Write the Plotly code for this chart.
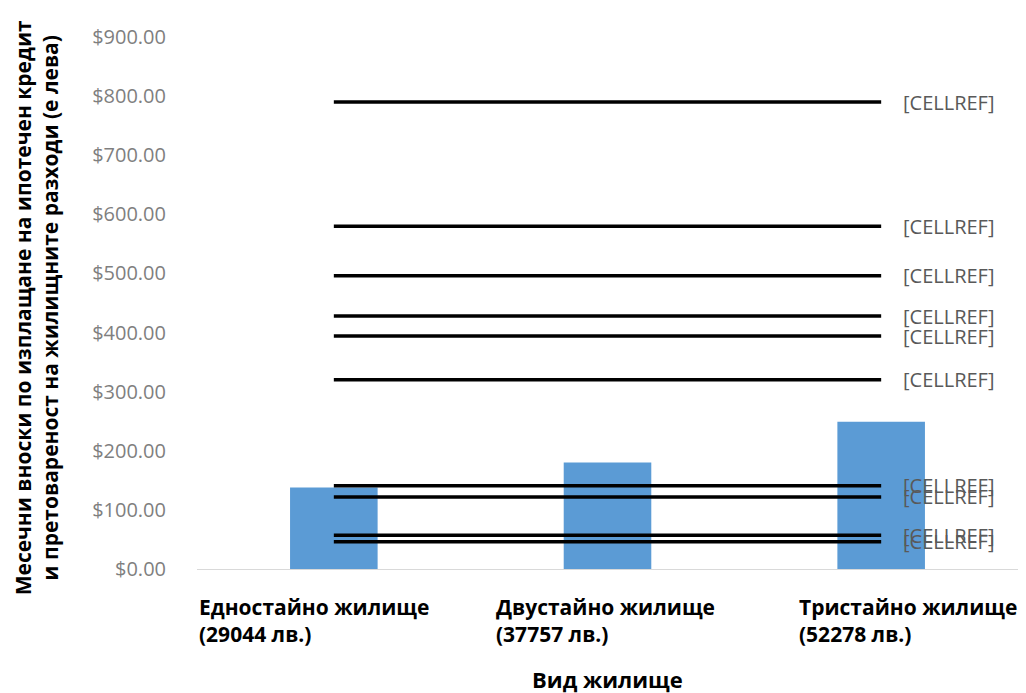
import plotly.graph_objects as go

categories = ['Едностайно жилище', 'Двустайно жилище', 'Тристайно жилище']
prices = ['(29044 лв.)', '(37757 лв.)', '(52278 лв.)']
bar_values = [138, 180, 249]
line_values = [790, 580, 496, 428, 394, 320, 141, 122, 57, 46]
line_labels = ['[CELLREF]'] * len(line_values)
y_ticks = [0, 100, 200, 300, 400, 500, 600, 700, 800, 900]

BAR_COLOR = '#5B9BD5'
LABEL_GRAY = '#595959'

fig = go.Figure()
fig.add_trace(go.Bar(x=categories, y=bar_values, width=0.32,
                     marker=dict(color=BAR_COLOR, line=dict(width=0)),
                     showlegend=False, hoverinfo='y'))

# horizontal reference lines from the first to the last category
for v in line_values:
    fig.add_trace(go.Scatter(x=[categories[0], categories[-1]], y=[v, v], mode='lines',
                             line=dict(color='black', width=3.5), showlegend=False))

annotations = []
for v, lab in zip(line_values, line_labels):
    annotations.append(dict(x=categories[-1], y=v, xref='x', yref='y', text=lab,
                            showarrow=False, xanchor='left', xshift=20,
                            font=dict(family='Open Sans', size=20, color=LABEL_GRAY)))

# category labels (left aligned two-line boxes, as in the original)
shifts = [-137, -114, -84]
for cat, price, sh in zip(categories, prices, shifts):
    annotations.append(dict(x=cat, y=0, xref='x', yref='paper', yanchor='top',
                            yshift=-22, xanchor='left', xshift=sh, align='left',
                            text=f'<b>{cat}<br>{price}</b>', showarrow=False,
                            font=dict(family='Open Sans', size=21, color='black')))

annotations.append(dict(x=0.5, y=0, xref='paper', yref='paper', yanchor='top', yshift=-93,
                        text='<b>Вид жилище</b>', showarrow=False,
                        font=dict(family='Open Sans', size=22, color='black')))
annotations.append(dict(x=0, y=0.49, xref='paper', yref='paper', xanchor='center',
                        xshift=-161, textangle=-90,
                        text='<b>Месечни вноски по изплащане на ипотечен кредит<br>'
                             'и претовареност на жилищните разходи (е лева)</b>',
                        showarrow=False,
                        font=dict(family='Open Sans', size=21, color='black')))

fig.update_layout(
    width=1026, height=693,
    margin=dict(l=197, r=8, t=37, b=124),
    plot_bgcolor='white', paper_bgcolor='white',
    annotations=annotations,
    xaxis=dict(type='category', range=[-0.5, 2.5], showticklabels=False, showgrid=False,
               showline=True, linecolor='#D9D9D9', linewidth=1, ticks=''),
    yaxis=dict(range=[0, 900], tickvals=y_ticks, tickformat='$,.2f', showgrid=False,
               zeroline=False, showline=False, ticklabelstandoff=30,
               tickfont=dict(family='Open Sans', size=20, color='#7F7F7F')),
)

fig.write_html('out.html', config={'displayModeBar': False},
               post_script="document.body.style.margin='0';")
